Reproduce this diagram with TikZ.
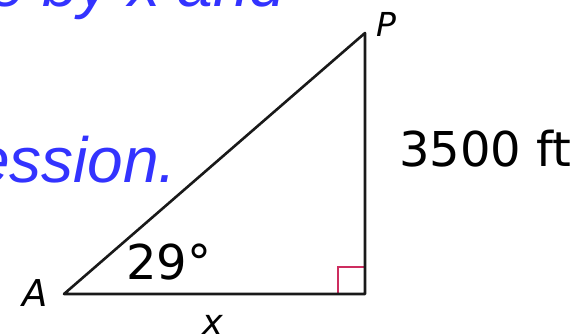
\documentclass[tikz,border=0pt]{standalone}
\usepackage{fontspec}
\setmainfont{DejaVu Sans}
\newfontfamily\promptfont{Liberation Sans}
\usepackage{tikz}
\usetikzlibrary{positioning}
\definecolor{promptblue}{RGB}{51,51,255}
\definecolor{markred}{RGB}{205,45,95}
\tikzstyle{leg} = [line width=2.6pt, draw=black!90, line join=round]
\tikzstyle{rightmark} = [line width=1.4pt, draw=markred]
\tikzstyle{lbl} = [inner sep=0pt, anchor=base west, font=\fontsize{48}{50}\selectfont]
\tikzstyle{vertex} = [inner sep=0pt, anchor=base west, font=\itshape\fontsize{35}{38}\selectfont]
\tikzstyle{prompt} = [inner sep=0pt, anchor=base east, text=promptblue, font=\promptfont\itshape\fontsize{64}{68}\selectfont]

\begin{document}
\begin{tikzpicture}[x=1pt, y=1pt]
    \useasboundingbox (0,0) rectangle (587,335);
    % cut-off question text
    \node (line1) [prompt] at (285,328) {e by x and};
    \node (line2) [prompt] at (177,152) {ession.};

    % triangle
    \coordinate (A) at (64,41);
    \coordinate (C) at (365,41);
    \coordinate (P) at (365,302);
    \draw [rightmark] ([xshift=-27pt]C) -- ++(0,27) -- ++(27,0);
    \draw [leg] (A) -- (C) -- (P) -- cycle;

    % labels
    \node (lblP) [vertex, font=\itshape\fontsize{33}{36}\selectfont] at (376,298) {P};
    \node (lblA) [vertex, font=\itshape\fontsize{37}{40}\selectfont] at (22,28) {A};
    \node (lblx) [vertex, anchor=base] at (213,1) {x};
    \node (height) [lbl] at (399,168) {3500 ft};
    \node (angle) [lbl] at (126,55) {29°};
\end{tikzpicture}
\end{document}
